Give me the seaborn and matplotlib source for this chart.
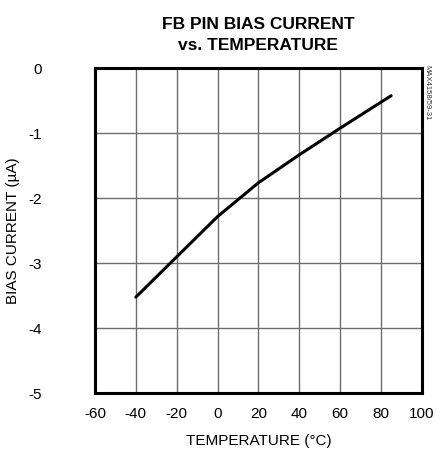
import numpy as np
import pandas as pd
import matplotlib
matplotlib.use('Agg')
import matplotlib.pyplot as plt
import seaborn as sns

# Dados
temperatura = [-40, -20, 0, 20, 40, 60, 80, 85]
corrente = [-3.52, -2.90, -2.28, -1.76, -1.33, -0.92, -0.52, -0.42]

xticks = [-60, -40, -20, 0, 20, 40, 60, 80, 100]
yticks = [0, -1, -2, -3, -4, -5]

sns.set_theme(style='white')
plt.rcParams['font.family'] = ['Liberation Sans', 'DejaVu Sans']
plt.rcParams['text.color'] = 'black'
plt.rcParams['xtick.color'] = 'black'
plt.rcParams['ytick.color'] = 'black'
plt.rcParams['axes.labelcolor'] = 'black'

dados = pd.DataFrame({'Temperatura': temperatura, 'Corrente': corrente})

fig = plt.figure(figsize=(4.41, 4.55), dpi=100)
ax = fig.add_axes([0.2154, 0.1356, 0.741, 0.714])

sns.lineplot(data=dados, x='Temperatura', y='Corrente', ax=ax, color='black', linewidth=2.2)

ax.set_xlim(-60, 100)
ax.set_ylim(-5, 0)
ax.set_xticks(xticks)
ax.set_yticks(yticks)
ax.set_xticklabels([str(t) for t in xticks], fontsize=11)
ax.set_yticklabels([str(t) for t in yticks], fontsize=11)
ax.tick_params(axis='both', length=0)
ax.tick_params(axis='x', pad=10)
ax.tick_params(axis='y', pad=38)
ax.grid(True, color='#6e6e6e', linewidth=1)

for lado in ax.spines.values():
    lado.set_color('black')
    lado.set_linewidth(2.2)

ax.set_xlabel('TEMPERATURE (°C)', fontsize=11, labelpad=9)
ax.set_ylabel('BIAS CURRENT (µA)', fontsize=11, labelpad=6)
ax.set_title('FB PIN BIAS CURRENT\nvs. TEMPERATURE', fontsize=12.5, fontweight='bold',
             linespacing=1.55, pad=13)

fig.text(0.968, 0.858, 'MAX4158/59-31', rotation=270, fontsize=5.5, color='#333333',
         ha='center', va='top')

plt.savefig('out.png', dpi=100)
plt.close()
